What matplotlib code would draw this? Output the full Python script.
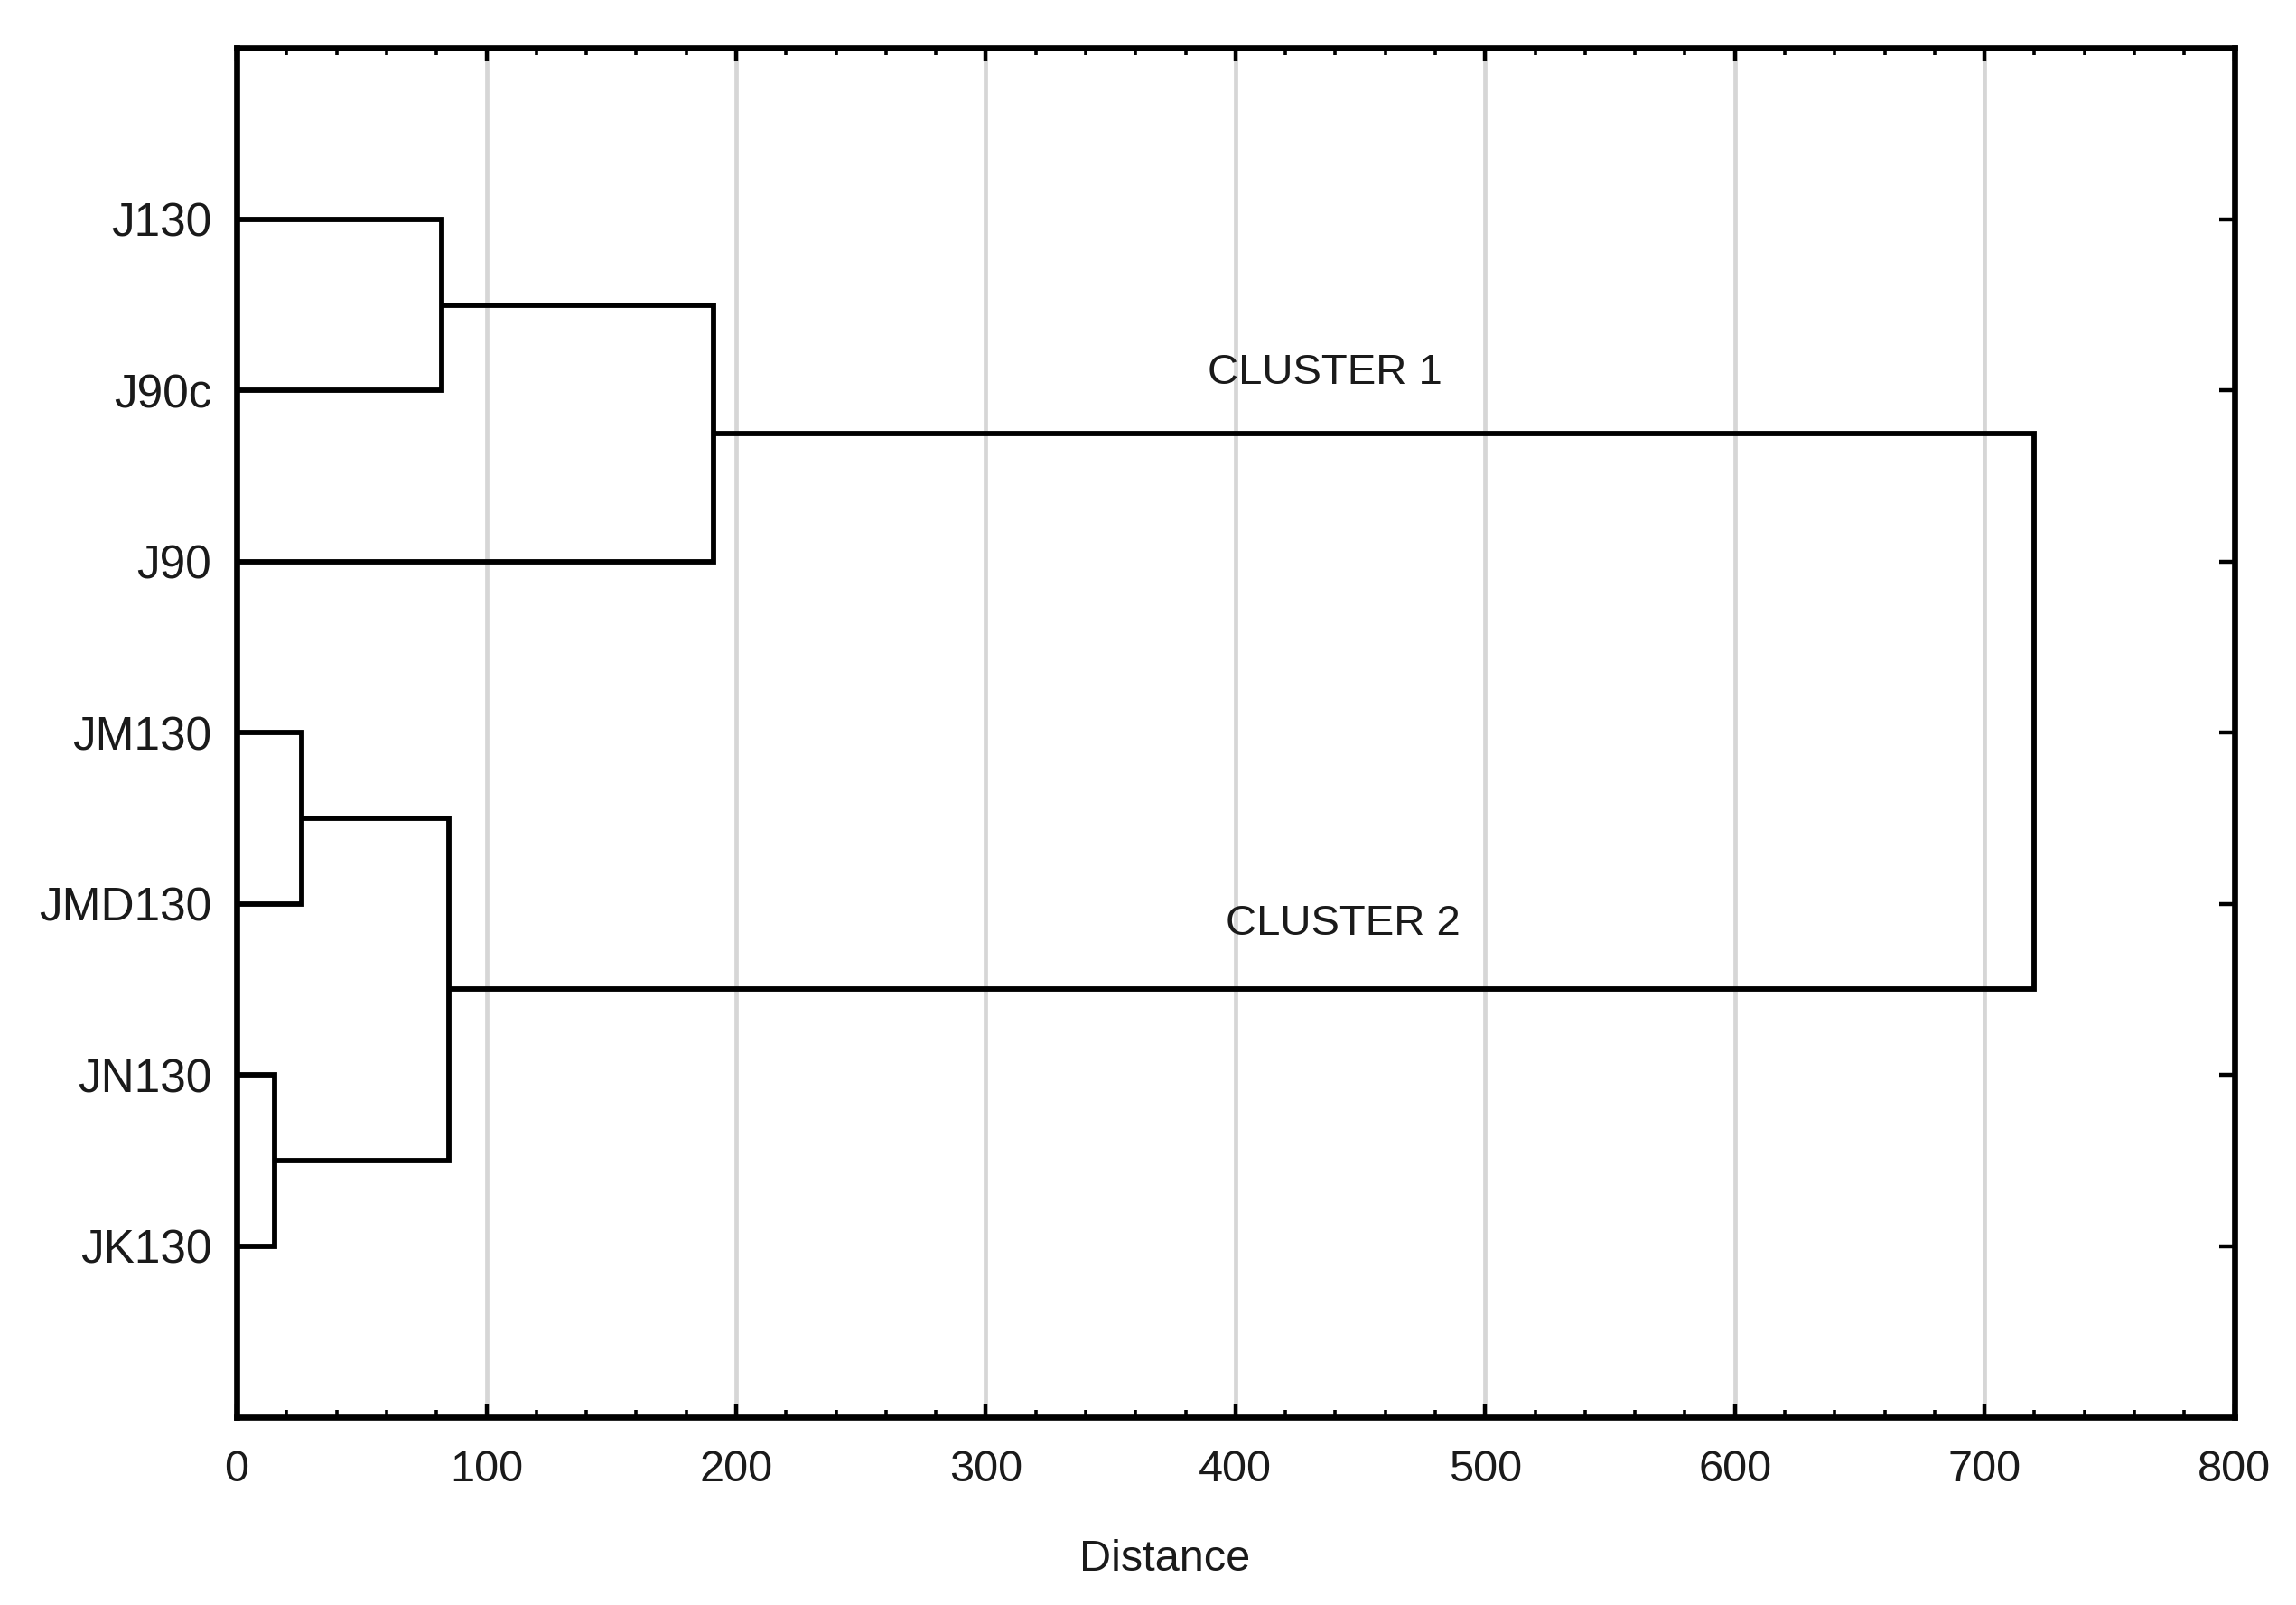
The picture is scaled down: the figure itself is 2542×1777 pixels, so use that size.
import matplotlib
matplotlib.use("Agg")
import matplotlib.pyplot as plt
from matplotlib.ticker import MultipleLocator

plt.rcParams['font.family'] = ['Liberation Sans', 'DejaVu Sans']

# Data
labels = ["J130", "J90c", "J90", "JM130", "JMD130", "JN130", "JK130"]
merge_a = [0, 5, 3, 7, 9, 10]      # first child node id
merge_b = [1, 6, 4, 2, 8, 11]      # second child node id
merge_height = [82, 15, 26, 191, 85, 720]
cluster_names = ["CLUSTER 1", "CLUSTER 2"]
cluster_x = [436, 443]
cluster_y = [1.9, 5.12]
x_ticks = [0, 100, 200, 300, 400, 500, 600, 700, 800]

fig = plt.figure(figsize=(25.42, 17.77), dpi=100)
ax = fig.add_axes([0.1031, 0.117, 0.8700, 0.853])

n = len(labels)
node_x = {i: 0.0 for i in range(n)}
node_y = {i: float(i + 1) for i in range(n)}

lw = 4.2
for k, (a, b, h) in enumerate(zip(merge_a, merge_b, merge_height)):
    ya, yb = node_y[a], node_y[b]
    ax.plot([node_x[a], h, h, node_x[b]], [ya, ya, yb, yb],
            color='black', lw=lw, solid_joinstyle='miter', solid_capstyle='butt',
            zorder=3)
    node_x[n + k] = h
    node_y[n + k] = (ya + yb) / 2

for name, cx, cy in zip(cluster_names, cluster_x, cluster_y):
    ax.text(cx, cy, name, ha='center', va='center', fontsize=34, color='#1a1a1a')

ax.set_xlim(0, 800)
ax.set_ylim(8, 0)
ax.set_xticks(x_ticks)
ax.set_xticklabels([str(t) for t in x_ticks])
ax.xaxis.set_minor_locator(MultipleLocator(20))
ax.set_yticks(range(1, n + 1))
ax.set_yticklabels(labels)

ax.grid(axis='x', which='major', color='#d6d6d6', lw=3.4, zorder=0)
ax.set_axisbelow(True)

for s in ax.spines.values():
    s.set_linewidth(4.8)
    s.set_color('black')

ax.tick_params(axis='x', which='major', direction='in', top=True, bottom=True,
               length=10, width=3.2, labelsize=35, pad=26, colors='black')
ax.tick_params(axis='x', which='minor', direction='in', top=True, bottom=True,
               length=6, width=2.6)
ax.tick_params(axis='y', which='major', direction='in', left=False, right=True,
               length=12, width=3.2, labelsize=37, pad=20, labelleft=True)
ax.tick_params(axis='x', labelcolor='#1a1a1a')
ax.tick_params(axis='y', labelcolor='#1a1a1a')

ax.set_xlabel("Distance", fontsize=35, color='#1a1a1a')
ax.xaxis.set_label_coords(0.4645, -0.089)

fig.savefig("out.png", dpi=100, facecolor='white')
